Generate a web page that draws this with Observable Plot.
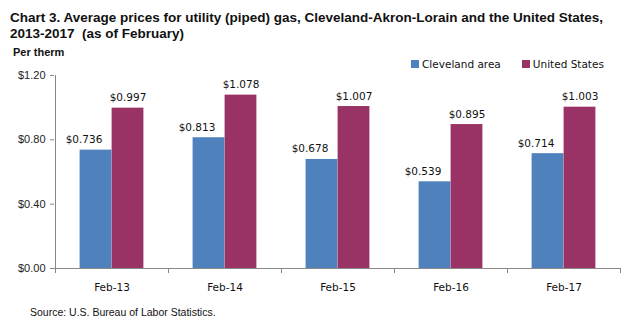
<!DOCTYPE html>
<html>
<head>
<meta charset="utf-8">
<script src="https://cdn.jsdelivr.net/npm/d3@7"></script>
<script src="https://cdn.jsdelivr.net/npm/@observablehq/plot@0.6"></script>
<style>
  body { margin: 0; background: #fff; }
  #wrap { position: relative; width: 638px; height: 330px; overflow: hidden; }
  #wrap svg { position: absolute; left: 0; top: 0; }
  .title { position: absolute; left: 10px; top: 10px; font: bold 13.5px "Liberation Sans Narrow", "Liberation Sans", Arial, sans-serif; line-height: 16px; color: #111; white-space: nowrap; }
  .unit { position: absolute; left: 13px; top: 46px; font: bold 11px "Liberation Sans Narrow", "Liberation Sans", Arial, sans-serif; color: #111; }
  .source { position: absolute; left: 30px; top: 306px; font: 10.5px "Liberation Sans", Arial, sans-serif; color: #111; }
  .legend { position: absolute; top: 58px; left: 411px; font: 10.5px "DejaVu Sans", Verdana, sans-serif; color: #111; display: flex; gap: 0; }
  .legend span.item { display: inline-flex; align-items: center; }
  .legend i { display: inline-block; width: 8px; height: 8px; margin-right: 3px; }
</style>
</head>
<body>
<div id="wrap">
  <div class="title">Chart 3. Average prices for utility (piped) gas, Cleveland-Akron-Lorain and the United States,<br>2013-2017&nbsp; (as of February)</div>
  <div class="unit">Per therm</div>
  <div class="legend" id="legend"></div>
  <div class="source">Source: U.S. Bureau of Labor Statistics.</div>
</div>
<script>
const categories = ["Feb-13", "Feb-14", "Feb-15", "Feb-16", "Feb-17"];
const seriesNames = ["Cleveland area", "United States"];
const cleveland = [0.736, 0.813, 0.678, 0.539, 0.714];
const unitedStates = [0.997, 1.078, 1.007, 0.895, 1.003];
const yTicks = [0, 0.4, 0.8, 1.2];
const colors = ["#4F81BD", "#993366"];

const data = [];
categories.forEach((c, i) => {
  data.push({cat: c, series: seriesNames[0], value: cleveland[i]});
  data.push({cat: c, series: seriesNames[1], value: unitedStates[i]});
});
const cle = data.filter(d => d.series === seriesNames[0]);
const us = data.filter(d => d.series === seriesNames[1]);

const W = 638, H = 330;
const mL = 54, mR = 18, mT = 75, mB = 62;
const step = (W - mL - mR) / categories.length;
const barW = 32;
const outer = (step - 2 * barW) / 2;

const fmt = d3.format("$.3f");
const fmtAxis = d3.format("$.2f");

const chart = Plot.plot({
  width: W, height: H,
  marginLeft: mL, marginRight: mR, marginTop: mT, marginBottom: mB,
  style: {fontFamily: "'DejaVu Sans', Verdana, sans-serif", fontSize: "10.5px", color: "#111", background: "transparent"},
  x: {domain: categories, padding: 0, label: null},
  y: {domain: [0, 1.2], label: null},
  color: {domain: seriesNames, range: colors},
  marks: [
    Plot.barY(cle, {x: "cat", y: "value", fill: colors[0], insetLeft: outer, insetRight: outer + barW}),
    Plot.barY(us, {x: "cat", y: "value", fill: colors[1], insetLeft: outer + barW, insetRight: outer}),
    Plot.text(cle, {x: "cat", y: "value", text: d => fmt(d.value), dx: -barW / 2 - 12, dy: -7, lineAnchor: "bottom", fill: "#111"}),
    Plot.text(us, {x: "cat", y: "value", text: d => fmt(d.value), dx: barW / 2, dy: -7, lineAnchor: "bottom", fill: "#111"}),
    Plot.axisY({ticks: yTicks, tickFormat: fmtAxis, tickSize: 4, tickPadding: 5, fontFamily: "'Liberation Sans', Arial, sans-serif", fontSize: 11, label: null, stroke: "#888", fill: "#222"}),
    Plot.axisX({tickSize: 0, tickPadding: 15, fontSize: 10.5, label: null, fill: "#111"}),
    Plot.ruleY([0], {stroke: "#888"})
  ]
});

// y axis line and category boundary ticks drawn from the scales
const xs = chart.scale("x");
const ys = chart.scale("y");
const svg = d3.select(chart);
const y0 = ys.apply(0), yTop = ys.apply(1.2);
const xLeft = xs.apply(categories[0]);
svg.append("line").attr("x1", xLeft + 0.5).attr("x2", xLeft + 0.5).attr("y1", yTop).attr("y2", y0).attr("stroke", "#888");
const bounds = categories.map(c => xs.apply(c)).concat([xs.apply(categories[categories.length - 1]) + xs.bandwidth]);
bounds.forEach(b => {
  svg.append("line").attr("x1", Math.round(b) + 0.5).attr("x2", Math.round(b) + 0.5).attr("y1", y0).attr("y2", y0 + 5).attr("stroke", "#888");
});

document.getElementById("wrap").insertBefore(chart, document.getElementById("wrap").firstChild);

const legend = document.getElementById("legend");
seriesNames.forEach((s, i) => {
  const it = document.createElement("span");
  it.className = "item";
  it.style.marginRight = i === 0 ? "21px" : "0";
  const sw = document.createElement("i");
  sw.style.background = colors[i];
  it.appendChild(sw);
  it.appendChild(document.createTextNode(s));
  legend.appendChild(it);
});
</script>
</body>
</html>
